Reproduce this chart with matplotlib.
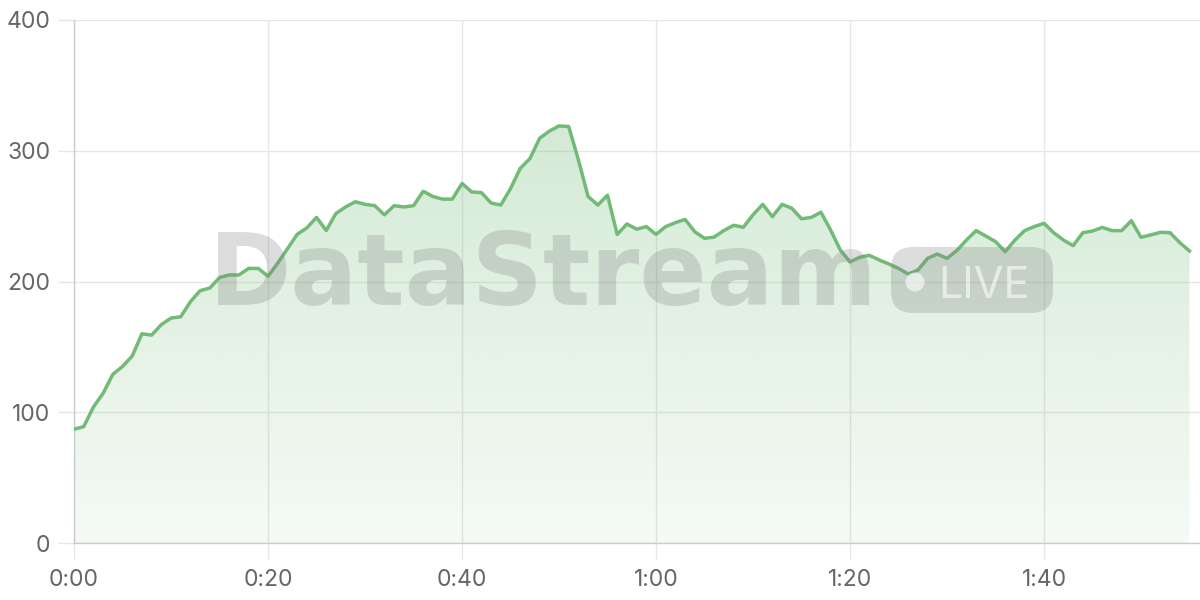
import numpy as np
import matplotlib
matplotlib.use("Agg")
import matplotlib.pyplot as plt
from matplotlib.patches import FancyBboxPatch, Circle
from matplotlib.transforms import IdentityTransform

# ---- data ----
minutes = list(range(116))
values = [87, 89, 104, 114.5, 129, 135, 143, 160, 159, 167,
          172, 173, 184.5, 193, 195, 203, 205, 205, 210, 210,
          204, 214, 225, 236, 241, 249, 239, 252, 257, 261,
          259, 258, 251, 258, 257, 258, 269, 265, 263, 263,
          275, 268.5, 268, 260, 258.5, 271, 286.5, 294, 309.5, 315,
          319, 318.5, 293, 265, 258.5, 266, 236, 244, 240, 242,
          236, 242, 245, 247.5, 238, 233, 234, 239, 243, 241.5,
          251, 259, 249.6, 259, 256, 248, 249, 253, 239.4, 224,
          215, 218.5, 220, 216.5, 213.4, 210, 205.7, 208.8, 217.7, 221,
          217.7, 223.6, 231.7, 238.9, 234.8, 230.5, 222.8, 231.7, 238.9, 242,
          244.5, 237.3, 231.7, 227.4, 237.3, 238.6, 241.4, 238.9, 238.9, 246.5,
          233.8, 235.6, 237.6, 237.3, 229.7, 223.3]
x_ticks = [0, 20, 40, 60, 80, 100]
x_tick_labels = ["0:00", "0:20", "0:40", "1:00", "1:20", "1:40"]
y_ticks = [0, 100, 200, 300, 400]
watermark = "DataStream"
badge = "LIVE"

LINE = "#72bb76"
TXT = "#666666"
GRID = "#e6e6e6"

plt.rcParams['font.family'] = ['Inter', 'DejaVu Sans']

fig = plt.figure(figsize=(12, 6), dpi=100)
ax = fig.add_axes([74 / 1200, 57 / 600, 1126 / 1200, 523 / 600])
ax.set_xlim(0, 116.08)
ax.set_ylim(0, 400)

x = np.array(minutes, dtype=float)
y = np.array(values, dtype=float)

# gradient fill
poly = ax.fill_between(x, y, 0, color="none", lw=0, zorder=1)
n = 256
alphas = np.linspace(0.07, 0.37, n)[:, None]
img = np.zeros((n, 1, 4))
rgb = np.array([114, 187, 118]) / 255.0
img[:, :, 0] = rgb[0]
img[:, :, 1] = rgb[1]
img[:, :, 2] = rgb[2]
img[:, :, 3] = alphas
im = ax.imshow(img, extent=[0, x[-1], 0, 400], origin="lower", aspect="auto",
               zorder=1, interpolation="bilinear")
im.set_clip_path(poly.get_paths()[0], transform=ax.transData)

ax.plot(x, y, color=LINE, lw=2.5, zorder=4, solid_joinstyle="round")

# axes styling
ax.set_xticks(x_ticks)
ax.set_xticklabels(x_tick_labels)
ax.set_yticks(y_ticks)
ax.grid(True, color=GRID, lw=1, zorder=0)
ax.set_axisbelow(True)
for s in ["top", "right"]:
    ax.spines[s].set_visible(False)
for s in ["left", "bottom"]:
    ax.spines[s].set_color("#cccccc")
    ax.spines[s].set_linewidth(1)
ax.tick_params(axis="both", length=11.5, color=GRID, width=1, labelsize=16.5,
               labelcolor=TXT)
ax.tick_params(axis="y", pad=5.5)
ax.tick_params(axis="x", pad=7.5)

# watermark
wm_color = (0.5, 0.5, 0.5, 0.27)
t = fig.text(209, 600 - 305, watermark, transform=IdentityTransform(),
             fontsize=71.5, fontweight="bold", color=wm_color,
             family=["DejaVu Sans"],
             ha="left", va="baseline", zorder=3)
pill = FancyBboxPatch((891, 600 - 313), 162, 66,
                      boxstyle="round,pad=0,rounding_size=22",
                      transform=IdentityTransform(), facecolor=wm_color,
                      edgecolor="none", zorder=3)
fig.add_artist(pill)
live_c = (1, 1, 1, 0.6)
fig.add_artist(Circle((915, 600 - 282), 9.5, transform=IdentityTransform(),
                      facecolor=live_c, edgecolor="none", zorder=3.5))
fig.text(938, 600 - 298, badge, transform=IdentityTransform(), fontsize=31,
         color=live_c, ha="left", va="baseline", zorder=3.5)

fig.savefig("out.png", dpi=100)
